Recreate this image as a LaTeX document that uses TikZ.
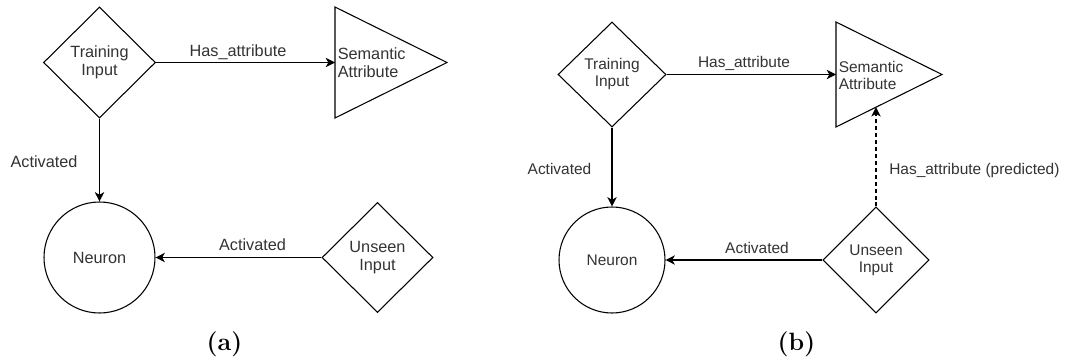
\documentclass[tikz,border=0pt]{standalone}
\usepackage{fontspec}
\newfontfamily\diafont{Liberation Sans}
\usetikzlibrary{shapes.geometric,arrows.meta,calc}

\definecolor{inkline}{HTML}{000000}
\definecolor{inktext}{HTML}{333333}

\tikzset{
  shp/.style={draw=inkline, line width=0.8pt, inner sep=0pt, align=center, text=inktext},
  dia/.style={shp, diamond, aspect=1},
  neur/.style={shp, circle},
  tri/.style={draw=inkline, line width=0.8pt, line join=miter},
  tritext/.style={anchor=west, inner sep=0pt, align=left, text=inktext},
  conn/.style={draw=inkline, line width=0.8pt, -{Stealth[length=7pt,width=7pt,inset=2pt]}},
  pred/.style={conn, dash pattern=on 3pt off 2.2pt},
  lbl/.style={anchor=base, inner sep=0pt, text=inktext},
  fa/.style={font=\diafont\fontsize{12.2}{13.5}\selectfont},
  fb/.style={font=\diafont\fontsize{11.6}{12.75}\selectfont},
  subcap/.style={anchor=base, inner sep=0pt, font=\fontsize{18.75}{22}\selectfont\bfseries},
}

\begin{document}
\begin{tikzpicture}[x=0.75pt, y=-0.75pt]
  \fill[white] (0,0) rectangle (1066,360);
  \useasboundingbox (0,0) rectangle (1066,360);

  % ---------- panel (a) ----------
  \node[dia, fa, minimum width=84pt, minimum height=83.25pt] (tra) at (99.5,62.5) {Training\\Input};
  \node[neur, fa, minimum size=83.25pt] (nea) at (99.5,257.5) {Neuron};
  \node[dia, fa, minimum width=83.25pt, minimum height=82.5pt] (una) at (377.5,257.5) {Unseen\\Input};

  \coordinate (sa-top) at (335,7);
  \coordinate (sa-bot) at (335,118);
  \coordinate (sa-tip) at (447,62.5);
  \coordinate (sa-in) at (335,62.5);
  \draw[tri] (sa-top) -- (sa-tip) -- (sa-bot) -- cycle;
  \node[tritext, fa] (sea) at (337.5,63) {Semantic\\Attribute};

  \draw[conn] (tra.east) -- (sa-in);
  \draw[conn] (tra.south) -- (nea.north);
  \draw[conn] (una.west) -- (nea.east);

  \node[lbl, fa] (la1) at (238,56) {Has\_attribute};
  \node[lbl, fa] (la2) at (44,167) {Activated};
  \node[lbl, fa] (la3) at (252.5,250) {Activated};
  \node[subcap] (capa) at (224.5,350.5) {(a)};

  % ---------- panel (b) ----------
  \node[dia, fb, minimum width=81pt, minimum height=78.75pt] (trb) at (612,74.5) {Training\\Input};
  \node[neur, fb, minimum size=79.5pt] (neb) at (612,260) {Neuron};
  \node[dia, fb, minimum width=79.5pt, minimum height=79.5pt] (unb) at (876,260) {Unseen\\Input};

  \coordinate (sb-top) at (836,22);
  \coordinate (sb-bot) at (836,127);
  \coordinate (sb-tip) at (942,74.5);
  \coordinate (sb-in) at (836,74.5);
  \coordinate (sb-hit) at ($(sb-bot)!0.3774!(sb-tip)$);
  \draw[tri] (sb-top) -- (sb-tip) -- (sb-bot) -- cycle;
  \node[tritext, fb] (seb) at (838.5,75.5) {Semantic\\Attribute};

  \draw[conn] (trb.east) -- (sb-in);
  \draw[conn] (trb.south) -- (neb.north);
  \draw[conn] (unb.west) -- (neb.east);
  \draw[pred] (unb.north) -- (unb.north |- sb-hit);

  \node[lbl, fb] (lb1) at (744,68) {Has\_attribute};
  \node[lbl, fb] (lb2) at (559.5,174) {Activated};
  \node[lbl, fb] (lb3) at (757,253) {Activated};
  \node[lbl, fb, anchor=base west] (lb4) at (889,174) {Has\_attribute (predicted)};
  \node[subcap] (capb) at (796.5,350.5) {(b)};
\end{tikzpicture}
\end{document}
